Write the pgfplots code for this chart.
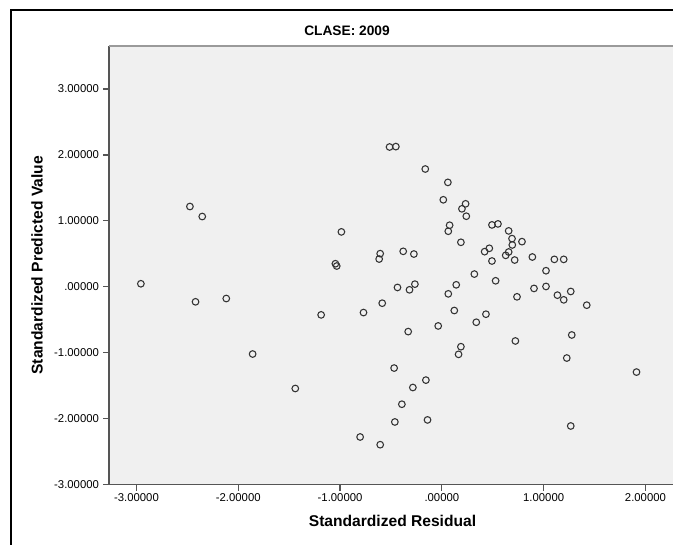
\documentclass[border=0pt]{standalone}
\usepackage{fontspec}
\setmainfont{Liberation Sans}
\usepackage{pgfplots}
\pgfplotsset{compat=1.18}
\definecolor{plotbg}{HTML}{F0F0F0}
\definecolor{axisgray}{HTML}{555555}
\definecolor{topgray}{HTML}{9A9A9A}
\definecolor{markgray}{HTML}{333333}
\begin{document}
\begin{tikzpicture}
\useasboundingbox (0pt,0pt) rectangle (504.75pt,408pt);
% outer frame (right and bottom lie outside the page)
\draw[black, line width=1.5pt] (8.25pt,-20pt) rectangle (540pt,400.5pt);
\node[font=\bfseries\fontsize{10.3pt}{12pt}\selectfont, anchor=center] at (260.25pt,384.75pt) {CLASE: 2009};
\begin{axis}[
  at={(81.75pt,44.625pt)}, anchor=south west,
  scale only axis,
  width=425.25pt, height=328.9pt,
  xmin=-3.27, xmax=2.30,
  ymin=-3, ymax=3.654,
  axis lines=left,
  axis line style={-, draw=axisgray, line width=1.1pt},
  axis background/.style={fill=plotbg},
  tick align=outside,
  major tick length=4.5pt,
  tick style={draw=axisgray, line width=0.9pt},
  xtick={-3,-2,-1,0,1,2},
  xticklabels={-3.00000,-2.00000,-1.00000,.00000,1.00000,2.00000},
  ytick={-3,-2,-1,0,1,2,3},
  yticklabels={-3.00000,-2.00000,-1.00000,.00000,1.00000,2.00000,3.00000},
  ticklabel style={font=\fontsize{8.5pt}{10pt}\selectfont, text=black},
  xticklabel style={yshift=1pt},
  yticklabel style={xshift=0.5pt},
  xlabel={Standardized Residual},
  ylabel={Standardized Predicted Value},
  label style={font=\bfseries\fontsize{11.7pt}{14pt}\selectfont},
  xlabel style={at={(axis description cs:0.5,-0.0832)}, anchor=center},
  ylabel style={at={(axis description cs:-0.127,0.5)}, anchor=center},
  clip=false,
]
\draw[topgray, line width=1.3pt] (rel axis cs:0,1) -- (rel axis cs:1.1,1);
\addplot[only marks, mark=o, mark size=2.5pt, draw=markgray, mark options={line width=0.8pt}] table {
x y
-2.475 1.218
-2.354 1.066
-2.957 0.046
-2.420 -0.228
-2.118 -0.178
-1.859 -1.020
-1.440 -1.543
-1.186 -0.426
-0.770 -0.391
-0.586 -0.249
-0.331 -0.680
-0.036 -0.594
0.122 -0.360
0.338 -0.538
0.187 -0.909
0.164 -1.025
-0.469 -1.233
-0.157 -1.416
-0.285 -1.528
-0.393 -1.782
-0.462 -2.051
-0.141 -2.020
-0.803 -2.279
-0.606 -2.396
-0.514 2.121
-0.452 2.127
-0.163 1.787
0.059 1.584
0.014 1.320
0.233 1.259
0.197 1.183
0.240 1.071
0.076 0.934
0.063 0.843
0.187 0.675
-0.987 0.833
-0.606 0.503
-0.616 0.421
-0.380 0.538
-0.275 0.497
-1.046 0.350
-1.033 0.315
0.319 0.193
-0.436 -0.010
-0.318 -0.046
-0.265 0.040
0.141 0.030
0.063 -0.107
0.492 0.939
0.551 0.954
0.656 0.848
0.689 0.731
0.787 0.685
0.692 0.635
0.466 0.584
0.420 0.533
0.656 0.528
0.627 0.477
0.492 0.391
0.715 0.406
0.889 0.452
1.105 0.416
1.197 0.416
1.023 0.244
0.528 0.091
0.905 -0.025
1.023 0.005
0.738 -0.152
1.135 -0.127
1.266 -0.071
1.197 -0.198
1.423 -0.279
0.433 -0.416
1.276 -0.731
0.722 -0.822
1.227 -1.081
1.912 -1.294
1.266 -2.112
};
\end{axis}
\end{tikzpicture}
\end{document}
